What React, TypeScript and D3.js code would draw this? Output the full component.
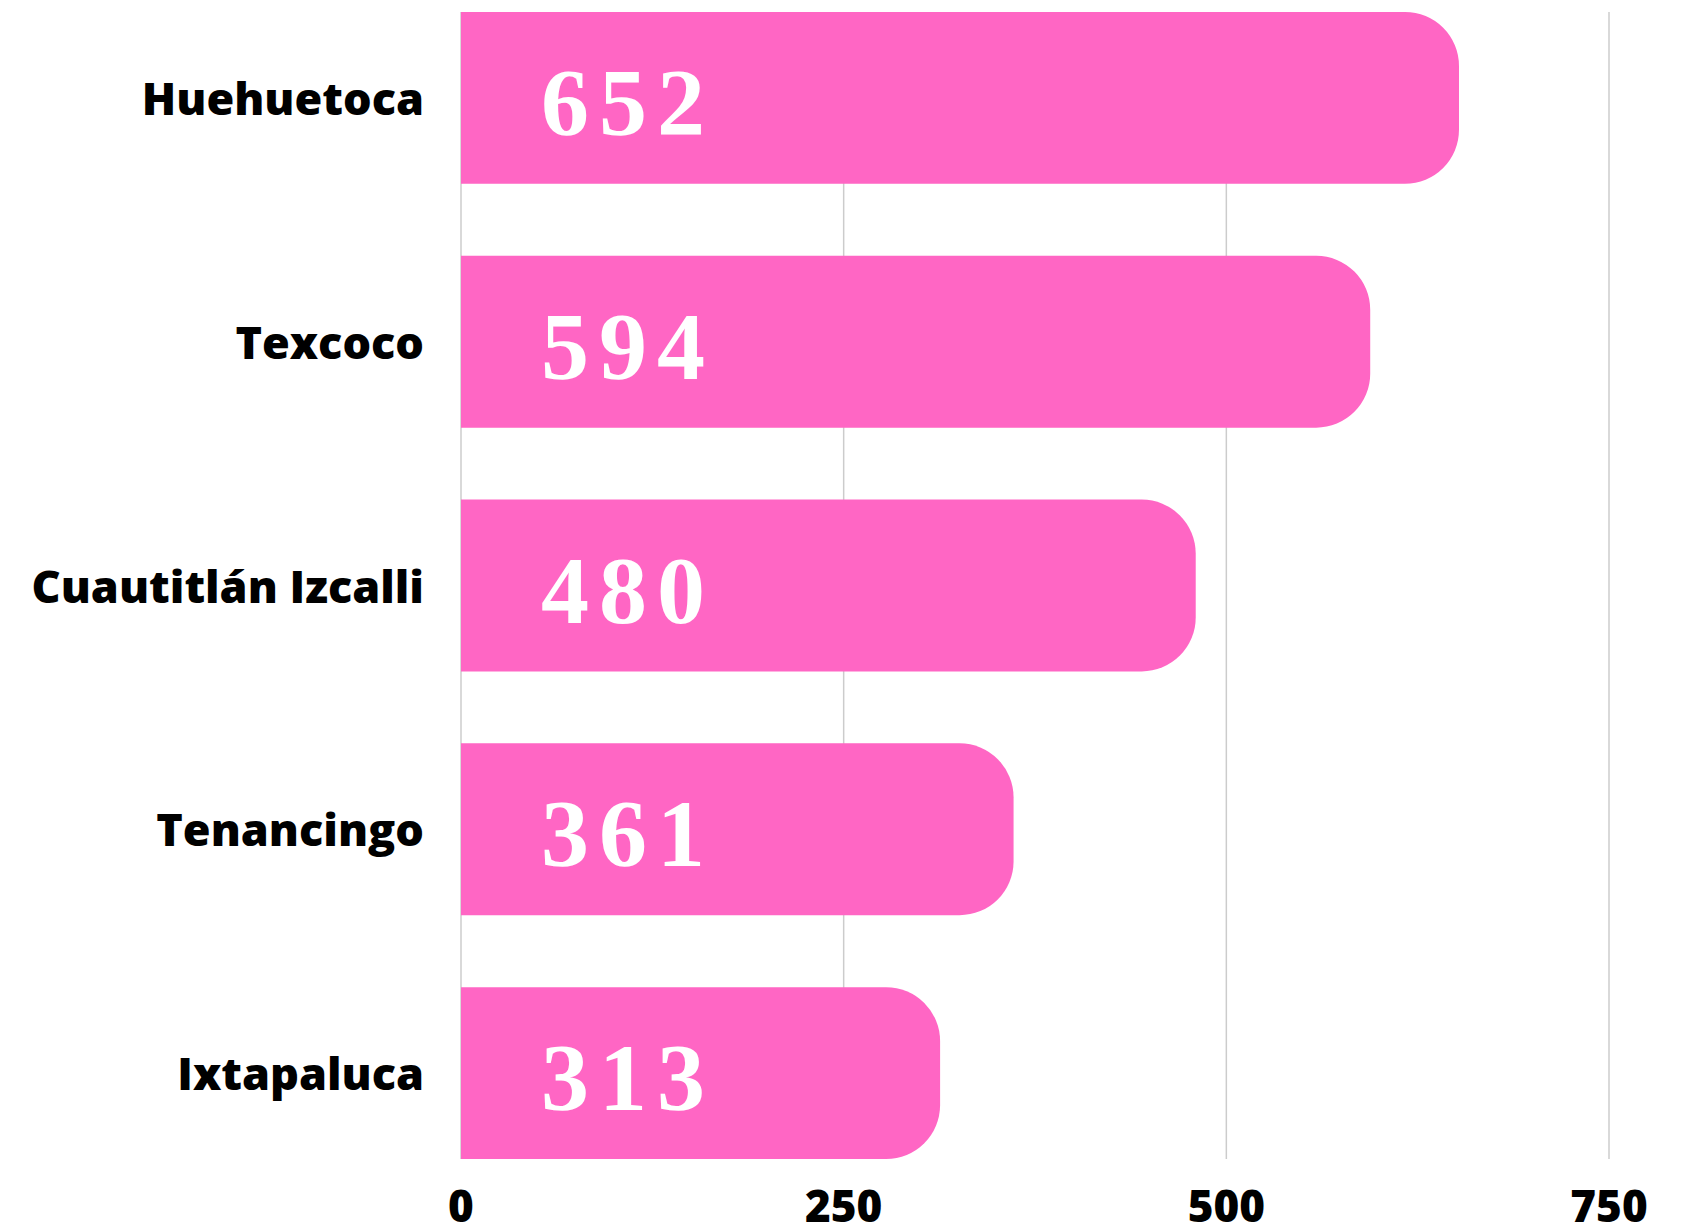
import React from "react";
import * as d3 from "d3";

const categories = ["Huehuetoca", "Texcoco", "Cuautitlán Izcalli", "Tenancingo", "Ixtapaluca"];
const values = [652, 594, 480, 361, 313];
const ticks = [0, 250, 500, 750];

const W = 1684;
const H = 1231;
const M = { left: 461, right: 75, top: 12, bottom: 72 };
const BAR = "#ff66c4";

function barPath(x0: number, x1: number, y0: number, h: number, r: number) {
  const rr = Math.min(r, (x1 - x0), h / 2);
  return `M${x0},${y0}H${x1 - rr}A${rr},${rr} 0 0 1 ${x1},${y0 + rr}V${y0 + h - rr}A${rr},${rr} 0 0 1 ${x1 - rr},${y0 + h}H${x0}Z`;
}

export default function App() {
  const x = d3.scaleLinear().domain([0, 750]).range([M.left, W - M.right]);
  const y = d3
    .scaleBand<string>()
    .domain(categories)
    .range([M.top, H - M.bottom])
    .paddingInner(0.295)
    .paddingOuter(0);
  const bw = y.bandwidth();
  const ls = 10;
  return (
    <svg width={W} height={H} style={{ display: "block", position: "absolute", left: 0, top: 0, background: "#fff" }}>
      {ticks.map((t) => (
        <line key={"g" + t} x1={x(t)} x2={x(t)} y1={M.top} y2={H - M.bottom} stroke="#cccccc" strokeWidth={1.5} />
      ))}
      {categories.map((c, i) => {
        const y0 = y(c)!;
        return (
          <g key={c}>
            <path d={barPath(x(0), x(values[i]), y0, bw, 54)} fill={BAR} />
            <text
              x={x(0) - 37}
              y={y0 + bw / 2 + 17}
              textAnchor="end"
              fontFamily="'Open Sans', sans-serif"
              fontWeight={800}
              fontSize={45}
              fill="#000"
            >
              {c}
            </text>
            <text
              x={x(0) + 162 + ls / 2}
              y={y0 + bw / 2 + 37}
              textAnchor="middle"
              fontFamily="'Liberation Serif', serif"
              fontWeight={700}
              fontSize={96}
              letterSpacing={ls}
              fill="#fff"
            >
              {values[i]}
            </text>
          </g>
        );
      })}
      {ticks.map((t) => (
        <text
          key={"t" + t}
          x={x(t)}
          y={1222}
          textAnchor="middle"
          fontFamily="'Open Sans', sans-serif"
          fontWeight={800}
          fontSize={44}
          fill="#000"
        >
          {t}
        </text>
      ))}
    </svg>
  );
}
